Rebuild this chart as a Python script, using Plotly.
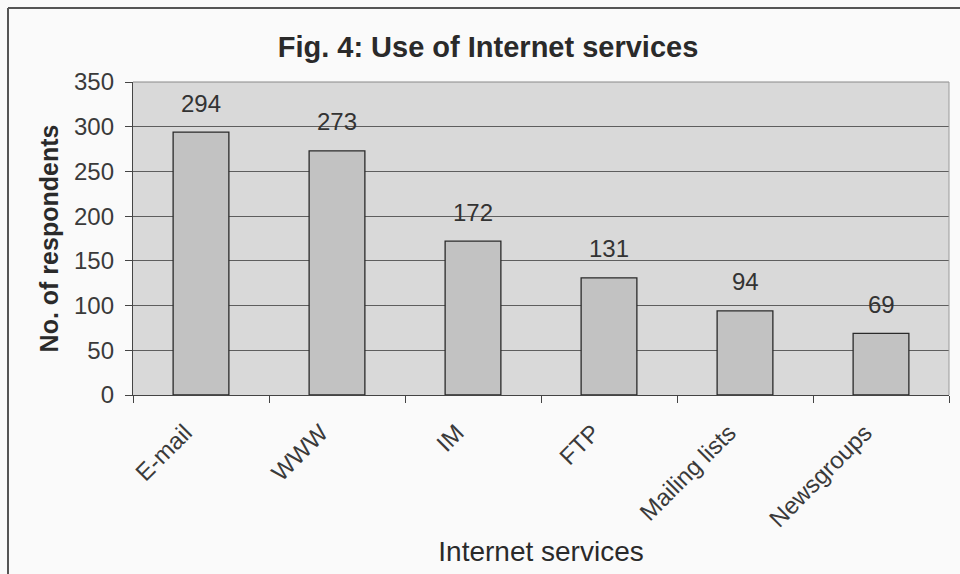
import plotly.graph_objects as go

categories = ["E-mail", "WWW", "IM", "FTP", "Mailing lists", "Newsgroups"]
respondents = [294, 273, 172, 131, 94, 69]
y_ticks = [0, 50, 100, 150, 200, 250, 300, 350]

W, H = 960, 574
L, R, T, B = 133, 11, 82, 179
pw = W - L - R
ph = H - T - B
FONT = "Liberation Sans, Arial"

def px_x(x):
    return (x - L) / pw

def px_y(y):
    return (H - B - y) / ph

fig = go.Figure(go.Bar(
    x=categories, y=respondents,
    marker=dict(color="#c2c2c2", line=dict(color="#2a2a2a", width=1.3)),
    hoverinfo="x+y",
))

for c, v in zip(categories, respondents):
    fig.add_annotation(x=c, y=v, text=str(v), showarrow=False, yshift=29,
                       yanchor="middle", xanchor="center",
                       font=dict(family=FONT, size=24, color="#333333"))

fig.update_layout(
    width=W, height=H,
    margin=dict(l=L, r=R, t=T, b=B),
    paper_bgcolor="#fafafa",
    plot_bgcolor="#d9d9d9",
    bargap=0.59,
    showlegend=False,
    title=dict(text="<b>Fig. 4: Use of Internet services</b>", x=488 / W, xanchor="center",
               y=1 - 47 / H, yanchor="middle",
               font=dict(family=FONT, size=29, color="#2a2a2a")),
    font=dict(family=FONT, color="#333333"),
    shapes=[
        dict(type="line", xref="paper", yref="paper", x0=px_x(8), x1=px_x(960), y0=px_y(8), y1=px_y(8),
             line=dict(color="#555555", width=2)),
        dict(type="line", xref="paper", yref="paper", x0=px_x(8), x1=px_x(8), y0=px_y(8), y1=px_y(574),
             line=dict(color="#555555", width=2)),
        dict(type="line", xref="paper", yref="paper", x0=0, x1=1, y0=1, y1=1,
             line=dict(color="#8a8a8a", width=1)),
        dict(type="line", xref="paper", yref="paper", x0=1, x1=1, y0=0, y1=1,
             line=dict(color="#9a9a9a", width=1)),
    ],
)

fig.update_xaxes(
    type="category", tickangle=-45, tickson="boundaries",
    ticks="outside", ticklen=7, tickcolor="#444444",
    showline=True, linecolor="#444444", linewidth=1.3,
    tickfont=dict(family=FONT, size=24, color="#3a3a3a"),
    ticklabelstandoff=13, ticklabelshift=-16,
    title=dict(text="Internet services", standoff=10,
               font=dict(family=FONT, size=28, color="#2a2a2a")),
    showgrid=False,
)
fig.update_yaxes(
    range=[0, 350], tickvals=y_ticks,
    ticks="outside", ticklen=7, tickcolor="#444444",
    showline=True, linecolor="#444444", linewidth=1.3,
    showgrid=True, gridcolor="#5e5e5e", gridwidth=1,
    zeroline=False,
    tickfont=dict(family=FONT, size=24, color="#3a3a3a"),
    ticklabelstandoff=6,
    title=dict(text="<b>No. of respondents</b>", standoff=8,
               font=dict(family=FONT, size=25, color="#2a2a2a")),
)

fig.write_html("out.html")
